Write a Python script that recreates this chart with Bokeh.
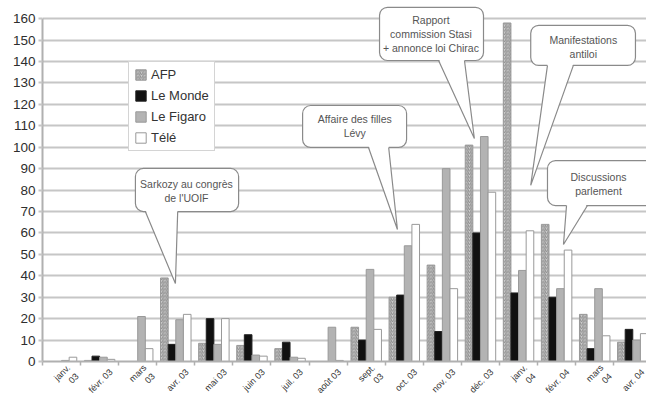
import math
import numpy as np
from bokeh.plotting import figure
from bokeh.models import Range1d, FixedTicker, ColumnDataSource, Legend, LegendItem
from bokeh.transform import dodge
from bokeh.embed import file_html
from bokeh.resources import INLINE
from bokeh.core.properties import value

# ---- data ----
months = ["janv.\n03", "févr. 03", "mars\n03", "avr. 03", "mai 03", "juin 03", "juil. 03",
          "août 03", "sept.\n03", "oct. 03", "nov. 03", "déc. 03", "janv.\n04",
          "févr. 04", "mars\n04", "avr. 04"]
afp = [0, 0.5, 0, 39, 8.5, 7.5, 6, 0, 16, 30, 45, 101, 158, 64, 22, 9]
le_monde = [0, 2.5, 0, 8, 20, 12.5, 9, 0, 10, 31, 14, 60, 32, 30, 6, 15]
le_figaro = [0.5, 2, 21, 19.5, 8, 3, 2, 16, 43, 54, 90, 105, 42.5, 34, 34, 10]
tele = [2, 1, 6, 22, 20, 2.5, 1.5, 0.5, 15, 64, 34, 79, 61, 52, 12, 13]
y_ticks = list(range(0, 161, 10))

# callouts (annotation positions in data units)
callout_text = ["Sarkozy au congrès\nde l'UOIF", "Affaire des filles\nLévy",
                "Rapport\ncommission Stasi\n+ annonce loi Chirac",
                "Manifestations\nantiloi", "Discussions\nparlement"]
box_left = [2.44, 6.83, 8.85, 12.82, 13.26]
box_right = [5.15, 9.56, 11.58, 15.57, 16.10]
box_top = [90.1, 119.5, 165.3, 156.9, 93.8]
box_bottom = [70.0, 99.9, 140.5, 138.2, 72.8]
text_x = [3.78, 8.2, 10.2, 14.2, 14.6]
text_y = [79.6, 110.0, 152.8, 146.8, 82.9]
tail_l = [2.70, 8.56, 10.40, 13.26, 13.76]
tail_r = [3.55, 9.09, 11.08, 13.94, 14.31]
tip_x = [3.49, 9.32, 11.34, 12.82, 13.68]
tip_y = [36.4, 61.6, 104.1, 82.2, 54.6]

FONT = "Liberation Sans"

idx = np.arange(len(months)) + 0.5
src = ColumnDataSource(dict(idx=idx, afp=afp, monde=le_monde, figaro=le_figaro, tele=tele))

p = figure(frame_width=604, frame_height=361,
           x_range=Range1d(0, 15.86), y_range=Range1d(0, 168.5),
           output_backend="svg", toolbar_location=None,
           min_border_left=42, min_border_right=0, min_border_top=0, min_border_bottom=35)
p.outline_line_color = None
p.background_fill_color = "white"
p.border_fill_color = "white"

# grid
p.xgrid.visible = False
p.ygrid.ticker = FixedTicker(ticks=y_ticks)
p.ygrid.grid_line_color = "#c6c6c6"
p.ygrid.grid_line_width = 2

# y axis
p.yaxis.ticker = FixedTicker(ticks=y_ticks)
p.yaxis.bounds = (0, 160)
p.yaxis.axis_line_color = "#b0b0b0"
p.yaxis.axis_line_width = 2
p.yaxis.major_tick_out = 4
p.yaxis.major_tick_in = 0
p.yaxis.major_tick_line_color = "#c6c6c6"
p.yaxis.major_tick_line_width = 2
p.yaxis.minor_tick_line_color = None
p.yaxis.major_label_text_font = FONT
p.yaxis.major_label_text_font_size = "13.5px"
p.yaxis.major_label_text_color = "#2e2e2e"
p.yaxis.major_label_standoff = 3

# x axis (labels sit slightly right of the group centre, as in the original)
label_pos = [round(float(v) + 0.3, 2) for v in idx]
bounds = [float(i) for i in range(len(months) + 1)]
p.xaxis.ticker = FixedTicker(ticks=label_pos, minor_ticks=bounds)
p.xaxis.major_label_overrides = {c: m for c, m in zip(label_pos, months)}
p.xaxis.major_label_orientation = math.pi / 4
p.xaxis.major_label_text_font = FONT
p.xaxis.major_label_text_font_size = "9px"
p.xaxis.major_label_text_color = "#333333"
p.xaxis.major_label_standoff = 3
p.xaxis.axis_line_color = "#b0b0b0"
p.xaxis.axis_line_width = 2
p.xaxis.major_tick_line_color = None
p.xaxis.minor_tick_out = 4
p.xaxis.minor_tick_in = 0
p.xaxis.minor_tick_line_color = "#b0b0b0"
p.xaxis.minor_tick_line_width = 1.5

# bars
w = 0.2
r_afp = p.vbar(x=dodge("idx", -0.3, range=p.x_range), top="afp", width=w, source=src,
               fill_color="#cfcfcf", line_color="#999999", line_width=1,
               hatch_pattern="right_diagonal_line", hatch_color="#8c8c8c",
               hatch_scale=3.5, hatch_weight=1)
r_monde = p.vbar(x=dodge("idx", -0.1, range=p.x_range), top="monde", width=w, source=src,
                 fill_color="#111111", line_color="#222222", line_width=1)
r_fig = p.vbar(x=dodge("idx", 0.1, range=p.x_range), top="figaro", width=w, source=src,
               fill_color="#b3b3b3", line_color="#999999", line_width=1)
r_tele = p.vbar(x=dodge("idx", 0.3, range=p.x_range), top="tele", width=w, source=src,
                fill_color="white", line_color="#999999", line_width=1)

# callouts
csrc = ColumnDataSource(dict(left=box_left, right=box_right, top=box_top, bottom=box_bottom))
p.quad(left="left", right="right", top="top", bottom="bottom", source=csrc,
       fill_color="white", line_color="#8a8a8a", line_width=1.2, border_radius=8)
tail_xs = [[a, tx, b] for a, tx, b in zip(tail_l, tip_x, tail_r)]
tail_ys_fill = [[bt + 0.9, ty, bt + 0.9] for bt, ty in zip(box_bottom, tip_y)]
tail_ys = [[bt, ty, bt] for bt, ty in zip(box_bottom, tip_y)]
p.patches(xs=tail_xs, ys=tail_ys_fill, fill_color="white", line_color=None)
p.multi_line(xs=tail_xs, ys=tail_ys, line_color="#8a8a8a", line_width=1.2)
p.text(x=text_x, y=text_y, text=callout_text, text_align="center", text_baseline="middle",
       text_font=value(FONT), text_font_size="10.5px", text_color="#555555",
       text_line_height=1.15)

legend = Legend(items=[LegendItem(label="AFP", renderers=[r_afp]),
                       LegendItem(label="Le Monde", renderers=[r_monde]),
                       LegendItem(label="Le Figaro", renderers=[r_fig]),
                       LegendItem(label="Télé", renderers=[r_tele])],
                location=(86, 210))
legend.border_line_color = "#aaaaaa"
legend.border_line_width = 1.5
legend.background_fill_color = "white"
legend.background_fill_alpha = 1
legend.label_text_font = FONT
legend.label_text_font_size = "13px"
legend.label_text_color = "#333333"
legend.glyph_width = 13
legend.glyph_height = 13
legend.label_height = 13
legend.spacing = 6
legend.padding = 5
legend.margin = 0
legend.label_standoff = 4
p.add_layout(legend)

open("out.html", "w").write(file_html(p, INLINE))
